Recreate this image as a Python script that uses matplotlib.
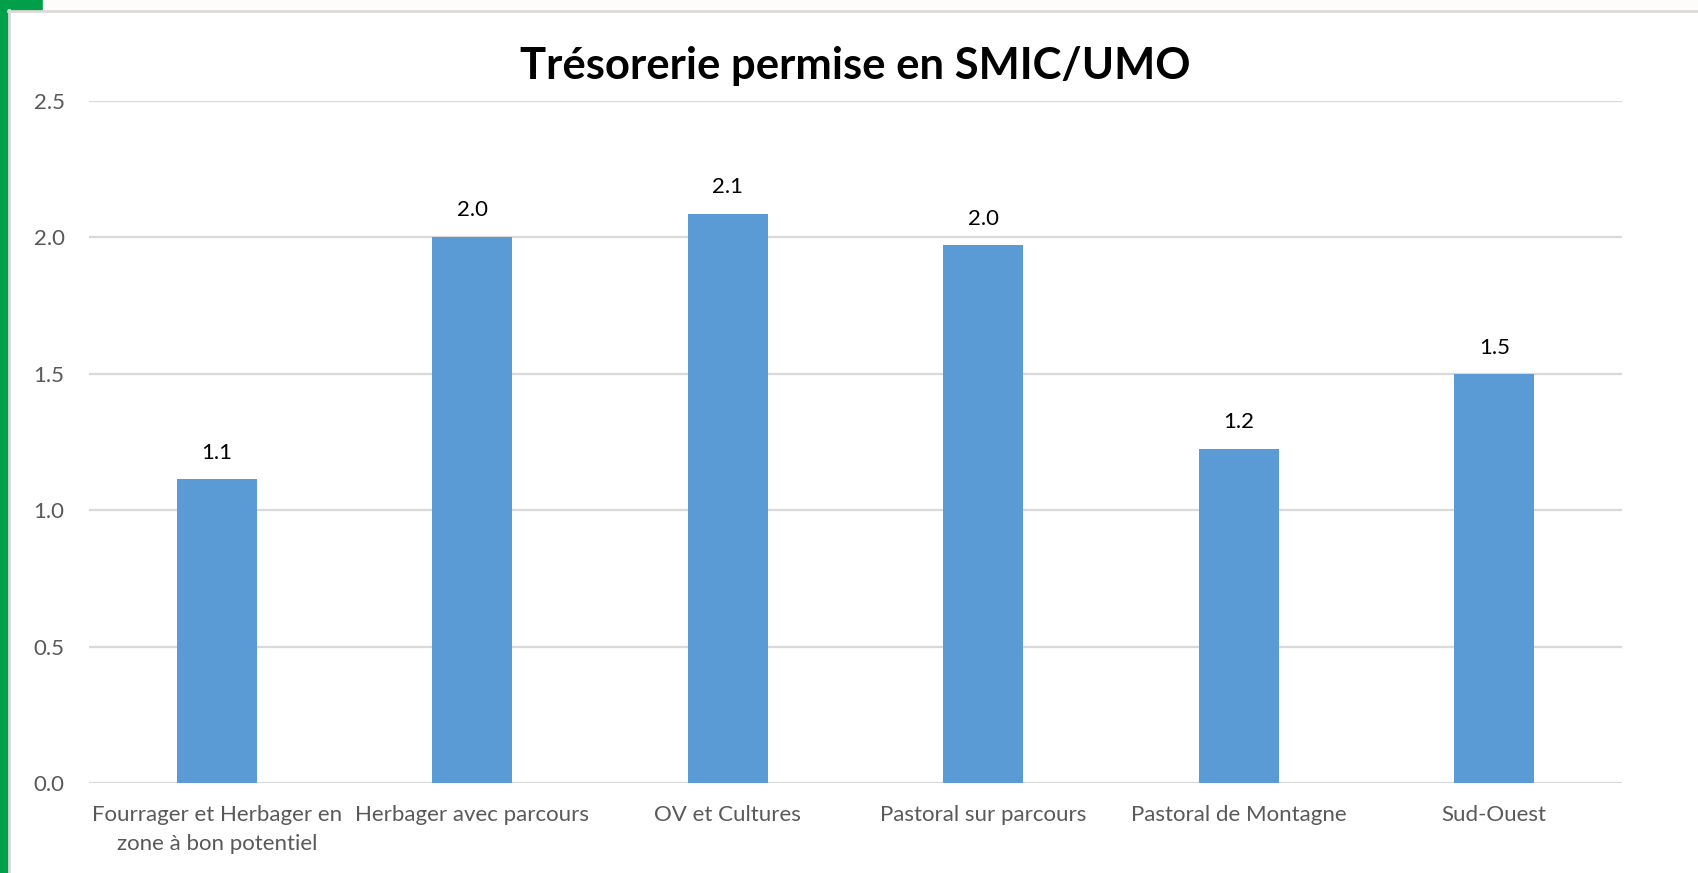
import matplotlib
matplotlib.use("Agg")
import matplotlib.pyplot as plt
from matplotlib.patches import Rectangle
from matplotlib.lines import Line2D

categories = ["Fourrager et Herbager en\nzone à bon potentiel", "Herbager avec parcours",
              "OV et Cultures", "Pastoral sur parcours", "Pastoral de Montagne", "Sud-Ouest"]
values = [1.113, 2.003, 2.087, 1.971, 1.224, 1.498]
yticks = [0.0, 0.5, 1.0, 1.5, 2.0, 2.5]
title = "Trésorerie permise en SMIC/UMO"

plt.rcParams['font.family'] = ['Lato', 'DejaVu Sans']

fig = plt.figure(figsize=(16.99, 8.73), dpi=100)
W, H = 1699, 873

# decorative border
fig.patches.append(Rectangle((0, 0), 8/W, 1, transform=fig.transFigure, color="#00A04A", zorder=0))
fig.patches.append(Rectangle((0, 1-10/H), 43/W, 10/H, transform=fig.transFigure, color="#00A04A", zorder=0))
fig.patches.append(Rectangle((43/W, 1-10/H), 1-43/W, 10/H, transform=fig.transFigure, color="#FDFCFA", zorder=0))
fig.lines.append(Line2D([8/W, 1], [1-10.5/H, 1-10.5/H], transform=fig.transFigure, color="#D9D9D9", lw=2))
fig.lines.append(Line2D([9.5/W, 9.5/W], [0, 1-10/H], transform=fig.transFigure, color="#D9D9D9", lw=2))

ax = fig.add_axes([89/W, 1-783/H, (1622-89)/W, (783-101)/H])
x = range(len(categories))
bars = ax.bar(x, values, width=0.313, color="#5B9BD5", zorder=3)
ax.set_xlim(-0.5, len(categories)-0.5)
ax.set_ylim(0, 2.5)
ax.set_yticks(yticks)
ax.set_yticklabels([f"{v:.1f}" for v in yticks])
ax.set_xticks(list(x))
ax.set_xticklabels(categories)
ax.grid(axis="y", color="#D9D9D9", lw=1.6, zorder=0)
for s in ax.spines.values():
    s.set_visible(False)
ax.tick_params(axis="both", length=0, colors="#595959", labelsize=16)
ax.tick_params(axis="y", pad=17.5)
ax.tick_params(axis="x", pad=16)
for lbl in ax.get_xticklabels():
    lbl.set_linespacing(1.55)
for xi, v in zip(x, values):
    ax.annotate(f"{v:.1f}", (xi, v), xytext=(0, 12), textcoords="offset points",
                ha="center", va="bottom", fontsize=16, color="#000000")
fig.text((89+1622)/2/W, 1-66/H, title, ha="center", va="center", fontsize=31.4, fontweight="bold", color="#000000")

fig.savefig("out.png", dpi=100)
